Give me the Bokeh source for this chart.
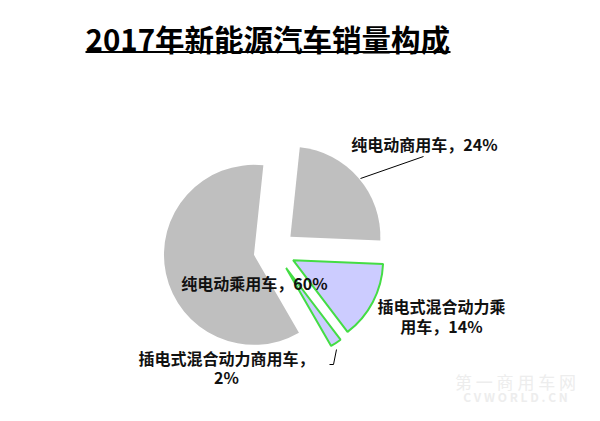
import numpy as np
from bokeh.plotting import figure
from bokeh.models import Range1d
from bokeh.core.properties import value
from bokeh.embed import file_html
from bokeh.resources import INLINE

# ---- data (clockwise order from the top) ----
categories = ["纯电动商用车", "插电式混合动力乘用车", "插电式混合动力商用车", "纯电动乘用车"]
shares = [24, 14, 2, 60]
title_text = "2017年新能源汽车销量构成"

fill_colors = ["#BFBFBF", "#CCCCFF", "#CCCCFF", "#BFBFBF"]
edge_colors = [None, "#44DD44", "#44DD44", None]

FONT = value("Noto Sans CJK SC")


def sy(y):
    return 421 - y


p = figure(width=584, height=405, x_range=Range1d(0, 584), y_range=Range1d(16, 421),
           output_backend="svg", toolbar_location=None, min_border=0)
p.axis.visible = False
p.grid.visible = False
p.outline_line_color = None
p.background_fill_color = "white"

# ---- exploded pie ----
cx, cy, r, explode = 274, sy(250), 90, 21
start = 84.0
for share, fc, ec in zip(shares, fill_colors, edge_colors):
    a0 = start
    a1 = start - share * 3.6
    mid = np.radians((a0 + a1) / 2)
    x = cx + explode * np.cos(mid)
    y = cy + explode * np.sin(mid)
    if ec is None:
        p.wedge(x=[x], y=[y], radius=r, start_angle=[np.radians(a1)], end_angle=[np.radians(a0)],
                fill_color=fc, line_color=None)
    else:
        p.wedge(x=[x], y=[y], radius=r, start_angle=[np.radians(a1)], end_angle=[np.radians(a0)],
                fill_color=fc, line_color=ec, line_width=2)
    start = a1

# ---- labels ----
lab = dict(text_font=FONT, text_font_style="bold", text_font_size="16px", text_color="#111111",
           text_align="center", text_baseline="middle")
p.text(x=[424], y=[sy(143)], text=[f"{categories[0]}，{shares[0]}%"], **lab)
p.text(x=[254], y=[sy(282)], text=[f"{categories[3]}，{shares[3]}%"], **lab)
p.text(x=[441], y=[sy(305)], text=[categories[1][:-2]], **lab)
p.text(x=[441], y=[sy(325)], text=[f"{categories[1][-2:]}，{shares[1]}%"], **lab)
p.text(x=[226], y=[sy(357)], text=[f"{categories[2]}，"], **lab)
p.text(x=[226], y=[sy(376)], text=[f"{shares[2]}%"], **lab)

# leader lines
p.line(x=[360, 423], y=[sy(178), sy(156)], line_color="black", line_width=1)
p.line(x=[329, 333, 336], y=[sy(364), sy(364), sy(349)], line_color="black", line_width=1)

# ---- title ----
p.text(x=[85], y=[sy(37)], text=[title_text], text_font=FONT, text_font_style="bold",
       text_font_size="29.5px", text_color="black", text_align="left", text_baseline="middle")
p.segment(x0=[85], y0=[sy(51.5)], x1=[450], y1=[sy(51.5)], line_color="black", line_width=2)

# ---- faint watermark ----
p.text(x=[515], y=[sy(381)], text=["第 一 商 用 车 网"], text_font=FONT, text_font_size="17px",
       text_color="#EDEDED", text_align="center", text_baseline="middle")
p.text(x=[515], y=[sy(396)], text=["C V W O R L D . C N"], text_font=FONT, text_font_size="12px",
       text_font_style="bold", text_color="#EDEDED", text_align="center", text_baseline="middle")

open("out.html", "w").write(file_html(p, INLINE))
